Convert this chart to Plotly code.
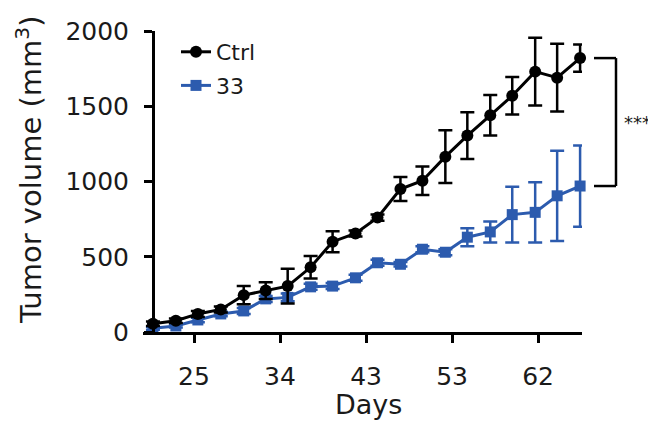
import plotly.graph_objects as go

# Measurement days (axis units; ticks labelled 25, 34, 43, 53, 62)
days = [20.7, 23.1, 25.4, 27.8, 30.2, 32.5, 34.8, 37.2, 39.5, 41.9,
        44.2, 46.6, 48.9, 51.3, 53.6, 56.0, 58.3, 60.7, 63.0, 65.4]

ctrl_mean = [55, 75, 120, 150, 245, 275, 305, 430, 600, 655,
             760, 950, 1005, 1165, 1305, 1440, 1570, 1730, 1690, 1820]
ctrl_err = [15, 15, 20, 20, 60, 55, 115, 75, 70, 20,
            20, 80, 95, 175, 155, 135, 125, 225, 225, 90]

t33_mean = [25, 40, 80, 120, 140, 220, 230, 300, 305, 360,
            460, 450, 550, 530, 630, 665, 780, 795, 905, 970]
t33_err = [10, 10, 15, 15, 20, 20, 25, 20, 20, 20,
           20, 15, 20, 20, 60, 70, 185, 200, 300, 270]

tick_vals = [25, 34, 43, 52, 61]
tick_text = ["25", "34", "43", "53", "62"]
y_ticks = [0, 500, 1000, 1500, 2000]

BLACK = "#000000"
BLUE = "#2C5BAE"
TXT = "#1a1a1a"
FONT = "DejaVu Sans"

fig = go.Figure()
fig.add_trace(go.Scatter(
    x=days, y=t33_mean, name="33", mode="lines+markers",
    line=dict(color=BLUE, width=3),
    marker=dict(symbol="square", size=11, color=BLUE),
    error_y=dict(type="data", array=t33_err, color=BLUE, thickness=2.5, width=7),
    cliponaxis=False, legendgroup="b", legendrank=2,
))
fig.add_trace(go.Scatter(
    x=days, y=ctrl_mean, name="Ctrl", mode="lines+markers",
    line=dict(color=BLACK, width=3),
    marker=dict(symbol="circle", size=12, color=BLACK),
    error_y=dict(type="data", array=ctrl_err, color=BLACK, thickness=2.5, width=7),
    cliponaxis=False, legendgroup="a", legendrank=1,
))

L, R, T, B = 143, 66, 31, 95
W, H = 648, 427
pw = W - L - R
ph = H - T - B

def px(xpix):
    return (xpix - L) / pw

def py(ypix):
    return (H - B - ypix) / ph

fig.update_layout(
    width=W, height=H,
    margin=dict(l=L, r=R, t=T, b=B),
    paper_bgcolor="white", plot_bgcolor="white",
    font=dict(family=FONT, color=TXT),
    showlegend=True,
    legend=dict(x=px(176), y=1.0, xanchor="left", yanchor="top",
                font=dict(size=22, family=FONT, color=TXT),
                bgcolor="rgba(0,0,0,0)", traceorder="grouped",
                tracegroupgap=2, itemwidth=30),
    xaxis=dict(range=[19.66, 65.6], tickvals=tick_vals, ticktext=tick_text,
               showgrid=False, zeroline=False, showline=True,
               linecolor=BLACK, linewidth=3, ticks="outside", ticklen=8,
               tickwidth=3, tickcolor=BLACK, ticklabelstandoff=12,
               tickfont=dict(size=25, family=FONT, color=TXT)),
    yaxis=dict(range=[0, 2000], tickvals=y_ticks,
               showgrid=False, zeroline=False, showline=True,
               anchor="free", position=px(153),
               linecolor=BLACK, linewidth=3, ticks="outside", ticklen=8,
               tickwidth=3, tickcolor=BLACK, ticklabelstandoff=10,
               tickfont=dict(size=25, family=FONT, color=TXT)),
)

# significance bracket between final means
yt, yb = ctrl_mean[-1], t33_mean[-1]
xa, xb = px(594), px(616)
for (x0, y0, x1, y1) in [(xa, yt, xb, yt), (xb, yt, xb, yb), (xa, yb, xb, yb)]:
    fig.add_shape(type="line", xref="paper", yref="y", x0=x0, y0=y0, x1=x1, y1=y1,
                  line=dict(color=BLACK, width=2.5))

fig.add_annotation(text="***", xref="paper", yref="y", x=px(622), y=(yt + yb) / 2,
                   xanchor="left", yanchor="middle", showarrow=False,
                   font=dict(size=18, family=FONT, color=TXT))

fig.add_annotation(text="Tumor volume (mm<sup>3</sup>)", xref="paper", yref="paper",
                   x=px(29), y=py(169), textangle=-90, showarrow=False,
                   xanchor="center", yanchor="middle",
                   font=dict(size=29, family=FONT, color=TXT))
fig.add_annotation(text="Days", xref="paper", yref="paper",
                   x=px(368), y=py(404), showarrow=False,
                   xanchor="center", yanchor="middle",
                   font=dict(size=27, family=FONT, color=TXT))

fig.write_html("out.html", config={"displayModeBar": False},
               post_script="document.body.style.margin='0';document.body.style.padding='0';")
